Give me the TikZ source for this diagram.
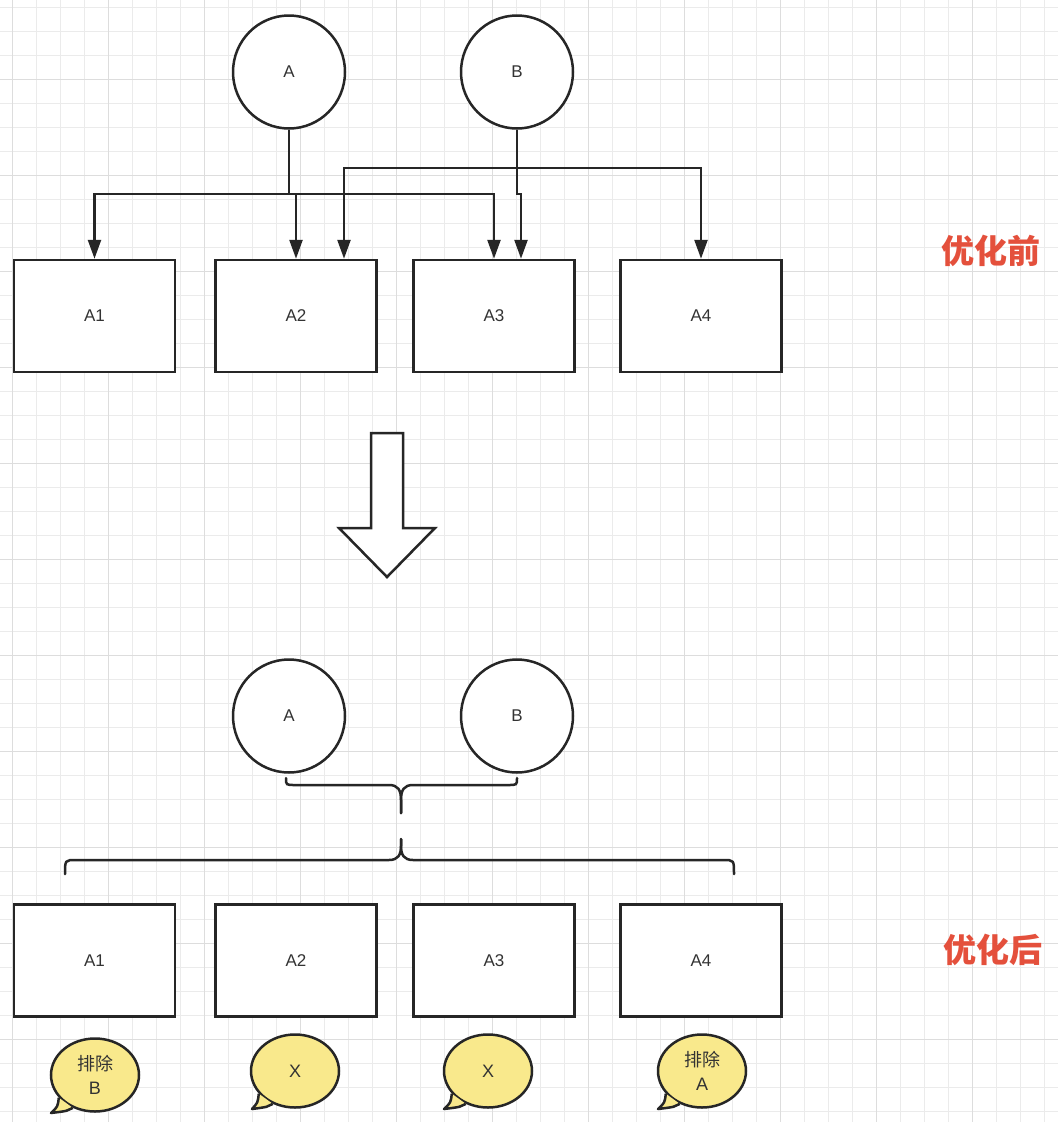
\documentclass[tikz,border=0pt]{standalone}
\usepackage{fontspec}
\setmainfont{Liberation Sans}
\newfontfamily\cjk{Noto Sans CJK SC}
\usetikzlibrary{arrows.meta,shapes.geometric}
\definecolor{optGrid}{HTML}{EBEBEB}
\definecolor{optMajor}{HTML}{DDDDDD}
\definecolor{optInk}{HTML}{262626}
\definecolor{optText}{HTML}{333333}
\definecolor{optRed}{HTML}{E4503C}
\definecolor{optNote}{HTML}{F9E98C}

\begin{document}
\begin{tikzpicture}[
    x=1pt, y=-1pt,
    box/.style={draw=optInk, line width=2.5pt, fill=white, minimum width=161pt, minimum height=112pt, font=\fontsize{17}{20}\selectfont, text=optText},
    ball/.style={ellipse, draw=optInk, line width=2.5pt, fill=white, minimum width=112pt, minimum height=113pt, inner sep=0pt, font=\fontsize{17}{20}\selectfont, text=optText},
    bubble/.style={ellipse, draw=optInk, line width=2.5pt, fill=optNote, minimum width=88pt, minimum height=73pt, inner sep=0pt, align=center, font=\fontsize{18}{24}\selectfont, text=optText},
    tail/.style={draw=optInk, line width=2.5pt, fill=optNote, line join=round},
    arrow/.style={-{Triangle[length=19pt,width=13pt]}, line width=2.5pt, color=optInk},
    brace/.style={line width=2.5pt, color=optInk, line cap=round},
    stage/.style={font=\cjk\bfseries\fontsize{33}{38}\selectfont, text=optRed}
  ]
    \useasboundingbox (0,0) rectangle (1058,1122);
    \fill[white] (0,0) rectangle (1058,1122);
    \foreach \gx in {12,36,...,1058} \draw[optGrid, line width=1pt] (\gx,0) -- (\gx,1122);
    \foreach \gy in {7,31,...,1122} \draw[optGrid, line width=1pt] (0,\gy) -- (1058,\gy);
    \foreach \gx in {12,108,...,1058} \draw[optMajor, line width=1pt] (\gx,0) -- (\gx,1122);
    \foreach \gy in {79,175,...,1122} \draw[optMajor, line width=1pt] (0,\gy) -- (1058,\gy);

    \node[ball] (ca) at (289,72) {A};
    \node[ball] (cb) at (517,72) {B};
    \node[box] (a1) at (94.5,316) {A1};
    \node[box] (a2) at (296,316) {A2};
    \node[box] (a3) at (494,316) {A3};
    \node[box] (a4) at (701,316) {A4};
    \node[stage] (before) at (991,251) {优化前};

    \coordinate (busA) at (0,194);
    \coordinate (busB) at (0,168);
    \draw[arrow] (ca.south) -- (ca.south |- busA) -| (a1.north);
    \draw[arrow] (ca.south |- busA) -| (a2.north);
    \draw[arrow] (ca.south |- busA) -| (a3.north);
    \draw[arrow] (cb.south) -- (cb.south |- busB) -| ([xshift=48pt]a2.north);
    \draw[arrow] (cb.south |- busB) -| (a4.north);
    \draw[arrow] (cb.south |- busB) -- (cb.south |- busA) -| ([xshift=27pt]a3.north);

    \draw[line width=2.5pt, draw=optInk, fill=white, line join=miter]
      (371,433) -- (403,433) -- (403,528) -- (435,528) -- (387,577) -- (339,528) -- (371,528) -- cycle;

    \node[ball] (da) at (289,716) {A};
    \node[ball] (db) at (517,716) {B};
    \node[box] (b1) at (94.5,960.5) {A1};
    \node[box] (b2) at (296,960.5) {A2};
    \node[box] (b3) at (494,960.5) {A3};
    \node[box] (b4) at (701,960.5) {A4};
    \node[stage] (after) at (993,950) {优化后};

    \draw[brace] (286,778) .. controls (286,785) .. (295,785) -- (389,785) .. controls (398,785) and (401,790) .. (401,800) -- (401,813);
    \draw[brace] (517,778) .. controls (517,785) .. (508,785) -- (413,785) .. controls (404,785) and (401,790) .. (401,800) -- (401,813);
    \draw[brace] (65,874) .. controls (65,860) .. (76,860) -- (389,860) .. controls (398,860) and (401,855) .. (401,846) -- (401,839);
    \draw[brace] (734,874) .. controls (734,860) .. (723,860) -- (413,860) .. controls (404,860) and (401,855) .. (401,846) -- (401,839);

    \node[bubble] (n1) at (95,1075) {{\cjk 排除}\\B};
    \node[bubble] (n2) at (295,1071) {X};
    \node[bubble] (n3) at (488,1071) {X};
    \node[bubble] (n4) at (702,1071) {{\cjk 排除}\\A};
    \foreach \n/\tx/\ty in {n1/51/1113, n2/252/1109, n3/444/1109, n4/658/1109}
      \draw[tail] (\n.212) .. controls ([shift={(-1,9)}]\n.212) .. (\tx,\ty)
        .. controls ([shift={(-5,3)}]\n.236) .. (\n.236);
  \end{tikzpicture}
\end{document}
